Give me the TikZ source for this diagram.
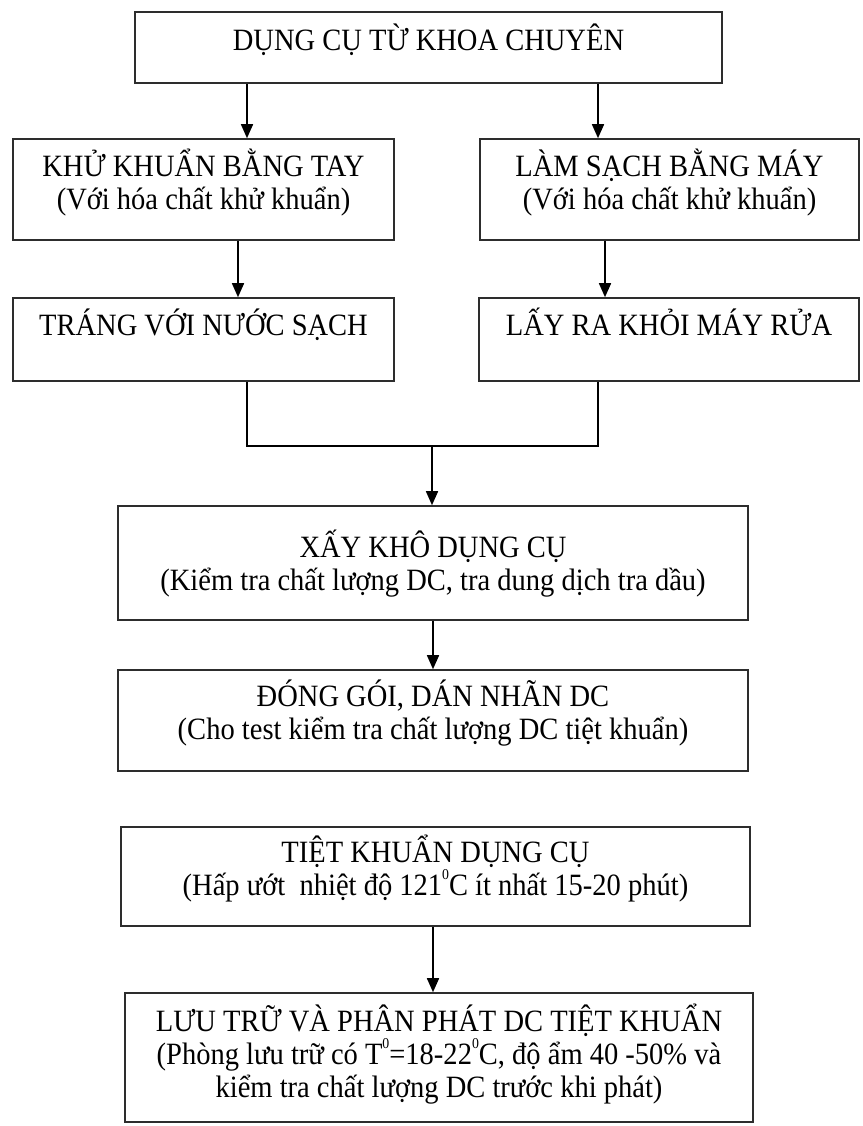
\documentclass[tikz,border=0pt]{standalone}
\usepackage{fontspec}
\setmainfont[FakeStretch=0.92]{Liberation Serif}
\usetikzlibrary{arrows.meta}
\definecolor{frame1}{RGB}{45,45,45}
\def\lw{1.6pt}
\newcommand\boxfont{\fontsize{31}{33}\selectfont\lineskiplimit=-30pt\relax}
\newcommand\degz{\raisebox{0.5em}{\fontsize{15}{15}\selectfont 0}}

\begin{document}
\begin{tikzpicture}[	x=1pt, y=-1pt, >={Triangle[length=14pt,width=12pt]},
				box/.style n args={2}{draw=frame1, line width=\lw, inner sep=0pt, minimum width=#1, minimum height=#2},
				txt/.style={anchor=north, inner sep=0pt, align=center, font=\boxfont},
				link/.style={line width=\lw, draw=black}]

	\useasboundingbox (0,0) rectangle (862,1126);
	\def\st{\rule{0pt}{32pt}}

	% Boxes
	\node[box={587}{71}]  (dungcu)    at (428.5,47.5) {};
	\node[box={381}{101}] (khukhuan)  at (203.5,189.5) {};
	\node[box={379}{101}] (lamsach)   at (669.5,189.5) {};
	\node[box={381}{83}]  (trang)     at (203.5,339.5) {};
	\node[box={380}{83}]  (layra)     at (669,339.5) {};
	\node[box={630}{114}] (xaykho)    at (433,563) {};
	\node[box={630}{101}] (donggoi)   at (433,720.5) {};
	\node[box={629}{99}]  (tietkhuan) at (435.5,876.5) {};
	\node[box={628}{129}] (luutru)    at (439,1057.5) {};

	% Texts
	\node[txt] (dungcu-t)    at ([yshift=-7]dungcu.north)    {\st DỤNG CỤ TỪ KHOA CHUYÊN};
	\node[txt] (khukhuan-t)  at ([yshift=-6]khukhuan.north)  {\st KHỬ KHUẨN BẰNG TAY\\(Với hóa chất khử khuẩn)};
	\node[txt] (lamsach-t)   at ([yshift=-6]lamsach.north)   {\st LÀM SẠCH BẰNG MÁY\\(Với hóa chất khử khuẩn)};
	\node[txt] (trang-t)     at ([yshift=-6]trang.north)     {\st TRÁNG VỚI NƯỚC SẠCH};
	\node[txt] (layra-t)     at ([yshift=-6]layra.north)     {\st LẤY RA KHỎI MÁY RỬA};
	\node[txt] (xaykho-t)    at ([yshift=-20]xaykho.north)   {\st XẤY KHÔ DỤNG CỤ\\(Kiểm tra chất lượng DC, tra dung dịch tra dầu)};
	\node[txt] (donggoi-t)   at ([yshift=-5]donggoi.north)   {\st ĐÓNG GÓI, DÁN NHÃN DC\\(Cho test kiểm tra chất lượng DC tiệt khuẩn)};
	\node[txt] (tietkhuan-t) at ([yshift=-4]tietkhuan.north) {\st TIỆT KHUẨN DỤNG CỤ\\(Hấp ướt~ nhiệt độ 121\degz C ít nhất 15-20 phút)};
	\node[txt] (luutru-t)    at ([yshift=-7]luutru.north)    {\st LƯU TRỮ VÀ PHÂN PHÁT DC TIỆT KHUẨN\\(Phòng lưu trữ có T\degz=18-22\degz C, độ ẩm 40 -50\% và\\kiểm tra chất lượng DC trước khi phát)};

	% Columns of the connectors
	\coordinate (c1) at (247,0);
	\coordinate (c2) at (598,0);
	\coordinate (c3) at (238,0);
	\coordinate (c4) at (605,0);
	\coordinate (c5) at (433,0);
	\coordinate (jl) at (247,0);
	\coordinate (jr) at (598,0);
	\coordinate (join) at (432,446);

	% Branches
	\draw[link,->] (dungcu.south -| c1) -- (khukhuan.north -| c1);
	\draw[link,->] (dungcu.south -| c2) -- (lamsach.north -| c2);
	\draw[link,->] (khukhuan.south -| c3) -- (trang.north -| c3);
	\draw[link,->] (lamsach.south -| c4) -- (layra.north -| c4);

	% Joining the two branches
	\draw[link] (trang.south -| jl) |- (join) -| (layra.south -| jr);
	\draw[link,->] (join) -- (xaykho.north -| join);

	% Main line
	\draw[link,->] (xaykho.south -| c5) -- (donggoi.north -| c5);
	\draw[link,->] (tietkhuan.south -| c5) -- (luutru.north -| c5);

\end{tikzpicture}
\end{document}
